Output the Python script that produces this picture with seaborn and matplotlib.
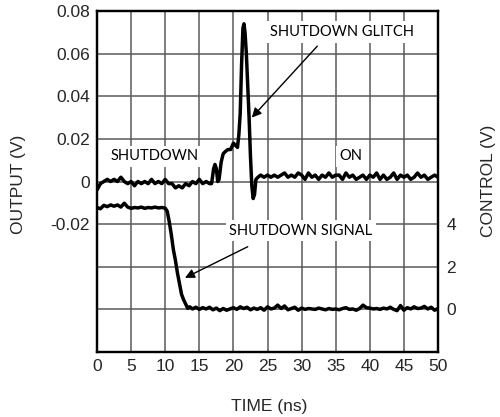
import matplotlib
matplotlib.use("Agg")
import matplotlib.pyplot as plt
import seaborn as sns
import pandas as pd

# ---------------- data ----------------
out_time = [0.0, 0.5, 1.0, 1.5, 2.0, 2.5, 3.0, 3.5, 4.0, 4.5, 5.0, 5.5, 6.0, 6.5, 7.0, 7.5,
            8.0, 8.5, 9.0, 9.5, 10.0, 10.5, 11.0, 11.5, 12.0, 12.5, 13.0, 13.5, 14.0, 14.5,
            15.0, 15.5, 16.0, 16.5, 16.8, 17.1, 17.3, 17.5, 17.7, 17.9, 18.2, 18.5, 18.8,
            19.2, 19.6, 20.0, 20.3, 20.6, 20.8, 21.0, 21.2, 21.4, 21.55, 21.7, 21.9, 22.1,
            22.3, 22.5, 22.7, 22.9, 23.1, 23.3, 23.6,
            24.0, 24.5, 25.0, 25.5, 26.0, 26.5, 27.0, 27.5, 28.0, 28.5, 29.0, 29.5, 30.0,
            30.5, 31.0, 31.5, 32.0, 32.5, 33.0, 33.5, 34.0, 34.5, 35.0, 35.5, 36.0, 36.5,
            37.0, 37.5, 38.0, 38.5, 39.0, 39.5, 40.0, 40.5, 41.0, 41.5, 42.0, 42.5, 43.0,
            43.5, 44.0, 44.5, 45.0, 45.5, 46.0, 46.5, 47.0, 47.5, 48.0, 48.5, 49.0, 49.5, 50.0]
out_volts = [-0.004, -0.001, 0.000, 0.001, 0.000, 0.001, 0.000, 0.002, 0.000, -0.001, 0.000,
             -0.002, 0.000, -0.001, 0.000, -0.001, 0.001, -0.001, 0.000, -0.001, 0.001, -0.001,
             -0.001, -0.003, -0.002, -0.003, -0.001, -0.002, 0.000, -0.001, 0.001, -0.001,
             0.000, -0.001, -0.001, 0.006, 0.008, 0.006, 0.000, 0.001, 0.009, 0.013, 0.014,
             0.015, 0.015, 0.018, 0.017, 0.016, 0.022, 0.032, 0.055, 0.072, 0.074, 0.070,
             0.060, 0.045, 0.030, 0.012, -0.002, -0.008, -0.006, 0.001, 0.002,
             0.003, 0.002, 0.003, 0.002, 0.003, 0.002, 0.003, 0.004, 0.002, 0.003, 0.002,
             0.004, 0.003, 0.001, 0.004, 0.002, 0.003, 0.001, 0.003, 0.002, 0.004, 0.002,
             0.003, 0.003, 0.001, 0.004, 0.002, 0.003, 0.001, 0.002, 0.003, 0.001, 0.003,
             0.002, 0.004, 0.001, 0.003, 0.001, 0.002, 0.004, 0.001, 0.003, 0.002, 0.003,
             0.001, 0.002, 0.004, 0.002, 0.003, 0.001, 0.002, 0.003, 0.002]

ctl_time = [0.0, 0.5, 1.0, 1.5, 2.0, 2.5, 3.0, 3.5, 4.0, 4.5, 5.0, 5.5, 6.0, 6.5, 7.0, 7.5,
            8.0, 8.5, 9.0, 9.5, 10.0, 10.3, 10.6, 10.9, 11.2, 11.5, 11.8, 12.1, 12.4, 12.7,
            13.0, 13.3, 13.6, 14.0, 14.5, 15.0, 15.5, 16.0, 16.5, 17.0, 17.5, 18.0, 18.5,
            19.0, 19.5, 20.0, 20.5, 21.0, 21.5, 22.0, 22.5, 23.0, 23.5, 24.0, 24.5, 25.0,
            25.5, 26.0, 26.5, 27.0, 27.5, 28.0, 28.5, 29.0, 29.5, 30.0, 30.5, 31.0, 31.5,
            32.0, 32.5, 33.0, 33.5, 34.0, 34.5, 35.0, 35.5, 36.0, 36.5, 37.0, 37.5, 38.0,
            38.5, 39.0, 39.5, 40.0, 40.5, 41.0, 41.5, 42.0, 42.5, 43.0, 43.5, 44.0, 44.5,
            45.0, 45.5, 46.0, 46.5, 47.0, 47.5, 48.0, 48.5, 49.0, 49.5, 50.0]
ctl_volts = [4.78, 4.72, 4.88, 4.82, 4.90, 4.84, 4.90, 4.80, 4.98, 4.80, 4.74, 4.78, 4.76,
             4.80, 4.74, 4.78, 4.76, 4.80, 4.76, 4.78, 4.75, 4.60, 4.10, 3.50, 2.80, 2.30,
             1.70, 1.20, 0.70, 0.45, 0.25, 0.05, 0.12, 0.02, 0.10, 0.00, 0.08, 0.02, 0.10,
             -0.02, 0.06, -0.06, 0.04, -0.04, 0.02, 0.08, 0.00, 0.12, 0.04, 0.10, -0.02, 0.06,
             0.00, 0.08, -0.04, 0.12, 0.02, 0.06, 0.20, 0.04, 0.16, -0.02, 0.04, 0.10, -0.04,
             0.06, 0.00, 0.04, 0.02, 0.00, 0.06, 0.02, -0.02, 0.04, 0.00, 0.02, -0.02, 0.04,
             0.08, 0.00, 0.02, -0.04, 0.04, 0.20, 0.08, 0.06, 0.02, 0.04, 0.00, 0.06, 0.02,
             0.10, 0.00, -0.06, 0.18, -0.04, 0.08, 0.02, 0.12, 0.04, 0.06, 0.14, 0.02, 0.10,
             -0.04, 0.04]

x_ticks = [0, 5, 10, 15, 20, 25, 30, 35, 40, 45, 50]
out_ticks = [0.08, 0.06, 0.04, 0.02, 0.0, -0.02, -0.04, -0.06, -0.08]
out_tick_labels = ["0.08", "0.06", "0.04", "0.02", "0", "-0.02", "", "", ""]
ctl_ticks = [0, 2, 4]
ctl_tick_labels = ["0", "2", "4"]

# ---------------- plot ----------------
sns.set_style("white")
plt.rcParams["font.family"] = ["Liberation Sans", "DejaVu Sans"]
FS = 12.5

fig = plt.figure(figsize=(5.0, 4.17), dpi=100)
ax = fig.add_axes([97 / 500, 1 - 352 / 417, (438 - 97) / 500, (352 - 11) / 417])

df_out = pd.DataFrame({"t": out_time, "v": out_volts})
df_ctl = pd.DataFrame({"t": ctl_time, "v": ctl_volts})

sns.lineplot(data=df_out, x="t", y="v", ax=ax, color="black", lw=2.5, sort=False, zorder=5)

ax.set_xlim(0, 50)
ax.set_ylim(-0.08, 0.08)
ax.set_xticks(x_ticks)
ax.set_xticklabels([str(v) for v in x_ticks])
ax.set_yticks(out_ticks)
ax.set_yticklabels(out_tick_labels)
ax.grid(True, color="#5a5a5a", lw=1.1)
ax.set_axisbelow(True)
ax.tick_params(length=0, labelsize=FS, pad=5)
ax.set_xlabel("")
ax.set_ylabel("")
for s in ax.spines.values():
    s.set_color("black")
    s.set_linewidth(1.6)

ax2 = ax.twinx()
sns.lineplot(data=df_ctl, x="t", y="v", ax=ax2, color="black", lw=2.5, sort=False)
ax2.set_ylim(-2, 14)
ax2.set_yticks(ctl_ticks)
ax2.set_yticklabels(ctl_tick_labels)
ax2.tick_params(length=0, labelsize=FS, pad=6)
ax2.set_ylabel("")
ax2.set_xlabel("")
ax2.set_xlim(0, 50)
ax2.grid(False)
for s in ax2.spines.values():
    s.set_color("black")
    s.set_linewidth(1.6)

fig.text(19 / 500, 1 - 184 / 417, "OUTPUT (V)", rotation=90, ha="center", va="center", fontsize=FS)
fig.text(488 / 500, 1 - 181 / 417, "CONTROL (V)", rotation=90, ha="center", va="center", fontsize=FS)
fig.text(269 / 500, 1 - 406 / 417, "TIME (ns)", ha="center", va="center", fontsize=FS)

afont = dict(family=["Lato", "DejaVu Sans"], fontsize=10.5, color="black")
box = dict(boxstyle="square,pad=0.25", fc="white", ec="none")

ax.text(8.4, 0.0118, "SHUTDOWN", ha="center", va="center", bbox=box, zorder=6, **afont)
ax.text(37.2, 0.0118, "ON", ha="center", va="center", bbox=box, zorder=6, **afont)
ax.text(35.9, 0.0701, "SHUTDOWN GLITCH", ha="center", va="center", bbox=box, zorder=6, **afont)
ax.text(29.9, -0.0231, "SHUTDOWN SIGNAL", ha="center", va="center", bbox=box, zorder=6, **afont)

arrow = dict(arrowstyle="-|>", color="black", lw=1.0, mutation_scale=14, shrinkA=0, shrinkB=0)
ax.annotate("", xy=(22.7, 0.030), xytext=(32.3, 0.0635), arrowprops=arrow, zorder=7)
ax.annotate("", xy=(12.9, -0.0452), xytext=(22.1, -0.0306), arrowprops=arrow, zorder=7)

fig.savefig("out.png", dpi=100)
